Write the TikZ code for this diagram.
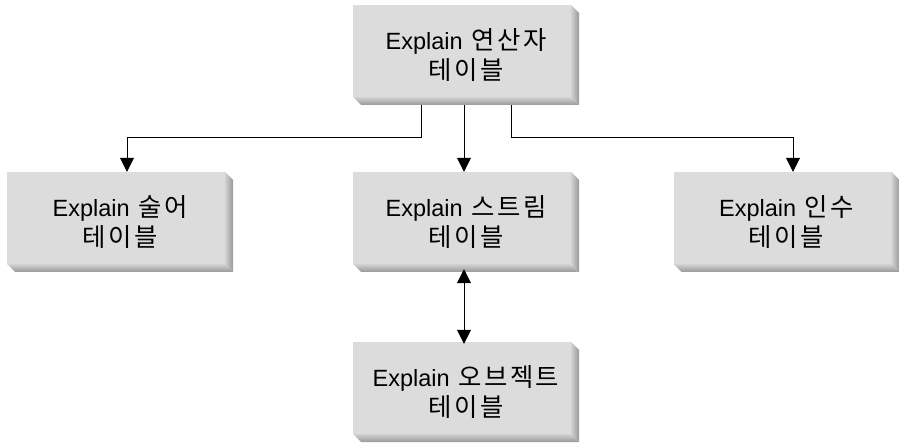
\documentclass[tikz,border=0pt]{standalone}
\usepackage{fontspec}
\setmainfont{Liberation Sans}
\newfontfamily\kr[Scale=1.08,LetterSpace=10]{Noto Sans CJK KR}
\usetikzlibrary{arrows.meta,calc}
\definecolor{face}{HTML}{DCDCDC}
\definecolor{bevA}{HTML}{D2D2D2}
\definecolor{bevB}{HTML}{999999}
\newcommand{\kw}[1]{\hspace{2pt}{\kr #1}}
\tikzset{
  slab/.style={minimum width=226pt, minimum height=100pt, inner sep=0pt, align=center,
    font=\fontsize{23.5}{30}\selectfont,
    path picture={
      \coordinate (nw) at (path picture bounding box.north west);
      \coordinate (se) at (path picture bounding box.south east);
      \fill[face] (nw) rectangle ($(se)+(-8pt,8pt)$);
      \shade[left color=bevA, right color=bevB]
        ($(se|-nw)+(-8pt,0)$) -- ($(se|-nw)+(0,-8pt)$) -- (se) -- ($(se)+(-8pt,8pt)$) -- cycle;
      \shade[top color=bevA, bottom color=bevB]
        ($(nw|-se)+(0,8pt)$) -- ($(se)+(-8pt,8pt)$) -- (se) -- ($(nw|-se)+(8pt,0)$) -- cycle;
    }},
  arr/.style={line width=0.8pt, -{Triangle[width=14pt,length=14pt]}},
  arrboth/.style={line width=0.8pt, {Triangle[width=14pt,length=14pt]}-{Triangle[width=14pt,length=14pt]}}
}
\begin{document}
\begin{tikzpicture}[x=1pt,y=-1pt]
\useasboundingbox[fill=white] (0,0) rectangle (899,443);
\node[slab] (top) at (466,55) {Explain \kw{연산자}\\{\kr 테이블}};
\node[slab] (left) at (120,222) {Explain \kw{술어}\\{\kr 테이블}};
\node[slab] (mid) at (466,222) {Explain \kw{스트림}\\{\kr 테이블}};
\node[slab] (right) at (786.5,222) {Explain \kw{인수}\\{\kr 테이블}};
\node[slab] (bot) at (466,392) {Explain \kw{오브젝트}\\{\kr 테이블}};
\draw[arr] ([xshift=-45pt]top.south) -- ++(0,32) -| ([xshift=7pt]left.north);
\draw[arr] ([xshift=-2pt]top.south) -- ([xshift=-2pt]mid.north);
\draw[arr] ([xshift=45pt]top.south) -- ++(0,32) -| ([xshift=6.5pt]right.north);
\draw[arrboth] ([xshift=-2pt,yshift=3pt]mid.south) -- ([xshift=-2pt,yshift=-2pt]bot.north);
\end{tikzpicture}
\end{document}
